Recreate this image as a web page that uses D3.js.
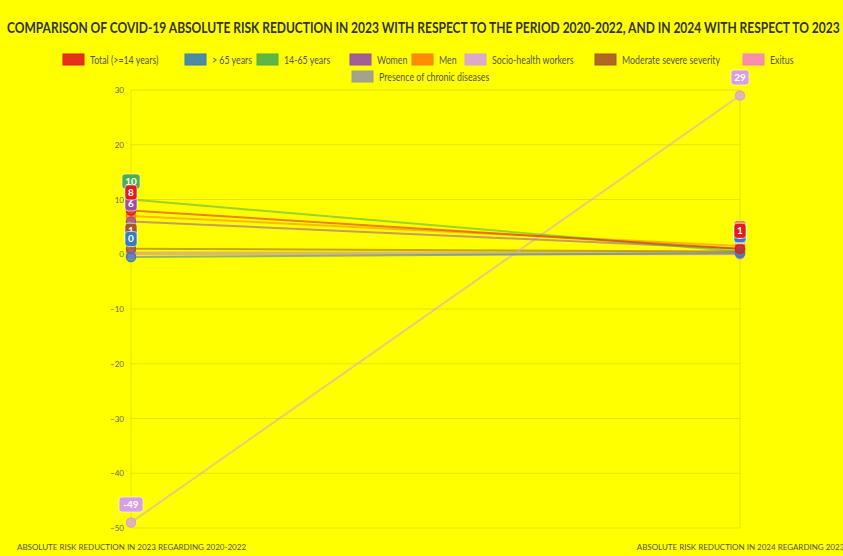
<!DOCTYPE html>
<html><head><meta charset="utf-8">
<script src="https://cdn.jsdelivr.net/npm/d3@7"></script>
<style>html,body{margin:0;padding:0;background:#ffff00;}svg{display:block;}</style>
</head><body>
<svg id="chart" width="843" height="556"></svg>
<script>
const title = "COMPARISON OF COVID-19 ABSOLUTE RISK REDUCTION IN 2023 WITH RESPECT TO THE PERIOD 2020-2022, AND IN 2024 WITH RESPECT TO 2023";
const categories = ["ABSOLUTE RISK REDUCTION IN 2023 REGARDING 2020-2022", "ABSOLUTE RISK REDUCTION IN 2024 REGARDING 2023"];
const seriesNames = ["Total (>=14 years)", "> 65 years", "14-65 years", "Women", "Men", "Socio-health workers", "Moderate severe severity", "Exitus", "Presence of chronic diseases"];
const seriesColors = ["#e41a1c", "#377eb8", "#4daf4a", "#984ea3", "#ff7f00", "#d9a0e0", "#a65628", "#f781bf", "#999999"];
const period1 = [8, -0.5, 10, 6, 7, -49, 1, 0, 0.3];
const period2 = [1, 0.2, 0.5, 1, 1.5, 29, 0.5, 0, 0.3];
const yTicks = [30, 20, 10, 0, -10, -20, -30, -40, -50];

const svg = d3.select("#chart");
const W = 843, H = 556;
svg.append("rect").attr("width", W).attr("height", H).attr("fill", "#ffff00");

// title, horizontally condensed to fit
const tt = svg.append("text")
  .attr("font-family", "Lato, sans-serif").attr("font-size", 16).attr("font-weight", 700)
  .attr("fill", "#333").text(title);
const tw = tt.node().getComputedTextLength();
tt.attr("transform", `translate(7,33) scale(${834 / tw},1)`);

// legend
const legendRows = [
  [[0, 63], [1, 185], [2, 257], [3, 350], [4, 412], [5, 465], [6, 595], [7, 743]],
  [[8, 352]]
];
const legendY = [60, 77];
legendRows.forEach((row, ri) => {
  row.forEach(([i, x]) => {
    const g = svg.append("g");
    g.append("rect").attr("x", x).attr("y", legendY[ri] - 6).attr("width", 21).attr("height", 11)
      .attr("fill", seriesColors[i]).attr("fill-opacity", 0.9).attr("stroke", seriesColors[i]);
    g.append("text")
      .attr("font-family", "Lato, sans-serif").attr("font-size", 10.5).attr("fill", "#555")
      .attr("transform", `translate(${x + 27},${legendY[ri] + 3.5}) scale(0.84,1)`)
      .text(seriesNames[i]);
  });
});

const x = d3.scalePoint().domain(categories).range([131, 740]);
const y = d3.scaleLinear().domain([-50, 30]).range([528, 90]);

// grid
const grid = svg.append("g");
grid.selectAll("line.h").data(yTicks).join("line")
  .attr("x1", 131).attr("x2", 740).attr("y1", d => y(d)).attr("y2", d => y(d))
  .attr("stroke", "rgba(0,0,0,0.1)").attr("stroke-width", 1);
grid.selectAll("line.v").data(categories).join("line")
  .attr("x1", d => x(d)).attr("x2", d => x(d)).attr("y1", y(30)).attr("y2", y(-50))
  .attr("stroke", "rgba(0,0,0,0.1)").attr("stroke-width", 1);

// y axis labels
const yAxis = d3.axisLeft(y).tickValues(yTicks).tickSize(0).tickPadding(7);
const ya = svg.append("g").attr("transform", "translate(131,0)").call(yAxis);
ya.select(".domain").remove();
ya.selectAll("text").attr("font-family", "Lato, sans-serif").attr("font-size", 8).attr("fill", "#666");

// x axis labels
const xAxis = d3.axisBottom(x).tickSize(0).tickPadding(12);
const xa = svg.append("g").attr("transform", "translate(0,532)").call(xAxis);
xa.select(".domain").remove();
xa.selectAll("text").attr("font-family", "Lato, sans-serif").attr("font-size", 8).attr("fill", "#555");

// lines (last dataset drawn first so Total ends on top)
const order = d3.range(seriesNames.length).reverse();
const line = d3.line().x(d => x(d[0])).y(d => y(d[1]));
order.forEach(i => {
  const pts = [[categories[0], period1[i]], [categories[1], period2[i]]];
  svg.append("path").attr("d", line(pts)).attr("fill", "none")
    .attr("stroke", seriesColors[i]).attr("stroke-opacity", 0.55).attr("stroke-width", 2);
});
order.forEach(i => {
  const pts = [[categories[0], period1[i]], [categories[1], period2[i]]];
  pts.forEach(p => {
    svg.append("circle").attr("cx", x(p[0])).attr("cy", y(p[1])).attr("r", 4.5)
      .attr("fill", seriesColors[i]).attr("fill-opacity", 0.7)
      .attr("stroke", seriesColors[i]).attr("stroke-width", 1.5);
  });
});
// value labels
order.forEach(i => {
  const pts = [[categories[0], period1[i]], [categories[1], period2[i]]];
  pts.forEach(p => {
    const t = String(Math.round(p[1]) === 0 ? 0 : Math.round(p[1]));
    const w = t.length * 6 + 6, h = 15;
    const cx = x(p[0]), cy = y(p[1]) - 18;
    const g = svg.append("g");
    g.append("rect").attr("x", cx - w / 2).attr("y", cy - h / 2).attr("width", w).attr("height", h)
      .attr("rx", 3).attr("fill", seriesColors[i]).attr("stroke", "#fff").attr("stroke-opacity", 0.6);
    g.append("text").attr("x", cx).attr("y", cy + 3.5).attr("text-anchor", "middle")
      .attr("font-family", "Lato, sans-serif").attr("font-size", 10).attr("font-weight", 700)
      .attr("fill", "#fff").text(t);
  });
});
</script>
</body></html>
